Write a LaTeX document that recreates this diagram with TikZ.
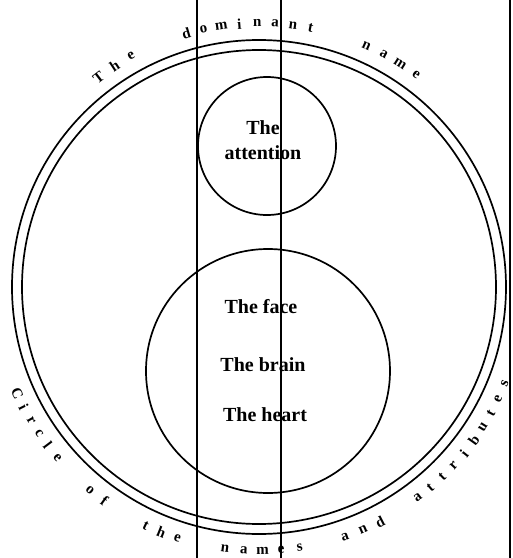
\documentclass[tikz,border=0pt]{standalone}
\usepackage{fontspec}
\setmainfont{Liberation Serif}
\begin{document}
\begin{tikzpicture}[x=1pt,y=1pt,
  ring/.style={line width=1.7pt},
  rule/.style={line width=1.4pt},
  innertext/.style={font=\fontsize{20}{25}\selectfont\bfseries,align=center,inner sep=0pt},
  arcletter/.style={font=\fontsize{15}{15}\selectfont\bfseries,inner sep=0pt}]
\useasboundingbox (-259,-271) rectangle (254,287);
\draw[ring] (0,0) circle (247);
\draw[ring] (0,0) circle (237);
\draw[ring] (8,141) circle (69);
\draw[ring] (9,-84) circle (122);
\draw[rule] (-62,-271) -- (-62,287);
\draw[rule] (22,-271) -- (22,287);
\draw[rule] (251,-271) -- (251,287);
\node[innertext] (attention) at (4,147) {The\\attention};
\node[innertext] (face) at (2,-20) {The face};
\node[innertext] (brain) at (4,-78) {The brain};
\node[innertext] (heart) at (6,-128) {The heart};
\foreach \ang/\ch [count=\i] in {127.4/T,123.2/h,119.0/e,
  106.0/d,102.1/o,98.2/m,94.3/i,90.4/n,86.5/a,82.6/n,78.7/t,
  66.0/n,61.8/a,57.7/m,53.5/e}
  \node[arcletter,rotate=\ang-90] (top\i) at (\ang:264) {\ch};
\foreach \ang/\ch [count=\i] in {203.7/C,207.0/i,210.3/r,213.6/c,216.9/l,220.2/e,
  230.2/o,234.2/f,
  244.6/t,248.3/h,252.0/e,
  262.6/n,266.7/a,270.8/m,274.8/e,278.9/s,
  289.0/a,293.2/n,297.3/d,
  307.0/a,310.5/t,314.0/t,317.5/r,321.0/i,324.5/b,328.0/u,331.5/t,335.0/e,338.5/s}
  \node[arcletter,rotate=\ang+90] (bot\i) at (\ang:264) {\ch};
\end{tikzpicture}
\end{document}
